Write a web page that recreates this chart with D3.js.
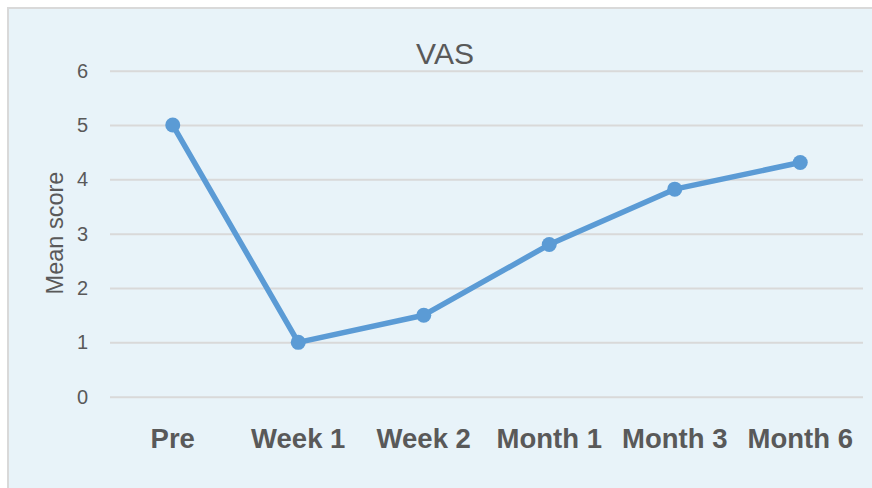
<!DOCTYPE html>
<html><head><meta charset="utf-8">
<script src="https://cdn.jsdelivr.net/npm/d3@7"></script>
<style>html,body{margin:0;padding:0;background:#fff;}</style>
</head><body>
<svg id="c" width="872" height="488"></svg>
<script>
const categories = ["Pre", "Week 1", "Week 2", "Month 1", "Month 3", "Month 6"];
const values = [5.0, 1.0, 1.5, 2.8, 3.82, 4.31];
const yTicks = [0, 1, 2, 3, 4, 5, 6];
const title = "VAS";
const yTitle = "Mean score";

const svg = d3.select("#c");
const W = 872, H = 488;
svg.append("rect").attr("x", 8).attr("y", 8).attr("width", W).attr("height", H)
  .attr("fill", "#E8F3F9").attr("stroke", "#D9D9D9").attr("stroke-width", 2);

const pLeft = 110, pRight = 863, pTop = 70.7, pBottom = 396.7;
const x = d3.scaleBand().domain(categories).range([pLeft, pRight]);
const y = d3.scaleLinear().domain([0, 6]).range([pBottom, pTop]);

const yAxis = d3.axisLeft(y).tickValues(yTicks).tickSize(-(pRight - pLeft)).tickPadding(22).tickFormat(d3.format("d"));
const gy = svg.append("g").attr("transform", `translate(${pLeft},0)`).call(yAxis);
gy.select(".domain").remove();
gy.selectAll(".tick line").attr("stroke", "#D9D9D9").attr("stroke-width", 2);
gy.selectAll(".tick text").attr("fill", "#595959")
  .style("font-family", "'Liberation Sans', Arial, sans-serif").style("font-size", "20px");

const xAxis = d3.axisBottom(x).tickSize(0).tickPadding(32);
const gx = svg.append("g").attr("transform", `translate(0,${pBottom})`).call(xAxis);
gx.select(".domain").remove();
gx.selectAll(".tick text").attr("fill", "#595959")
  .style("font-family", "'Liberation Sans', Arial, sans-serif").style("font-size", "27.5px").style("font-weight", "bold");

svg.append("text").attr("x", 445).attr("y", 64.3).attr("text-anchor", "middle")
  .attr("fill", "#595959").style("font-family", "'Liberation Sans', Arial, sans-serif")
  .style("font-size", "30px").text(title);

svg.append("text").attr("transform", `translate(63,233) rotate(-90)`).attr("text-anchor", "middle")
  .attr("fill", "#595959").style("font-family", "'Liberation Sans', Arial, sans-serif")
  .style("font-size", "23.5px").text(yTitle);

const cx = d => x(d) + x.bandwidth() / 2;
const line = d3.line().x((d, i) => cx(categories[i])).y(d => y(d));
svg.append("path").datum(values).attr("d", line).attr("fill", "none")
  .attr("stroke", "#5B9BD5").attr("stroke-width", 5.5).attr("stroke-linejoin", "round").attr("stroke-linecap", "round");
svg.selectAll("circle.pt").data(values).enter().append("circle").attr("class", "pt")
  .attr("cx", (d, i) => cx(categories[i])).attr("cy", d => y(d)).attr("r", 7.5).attr("fill", "#5B9BD5");
</script>
</body></html>
